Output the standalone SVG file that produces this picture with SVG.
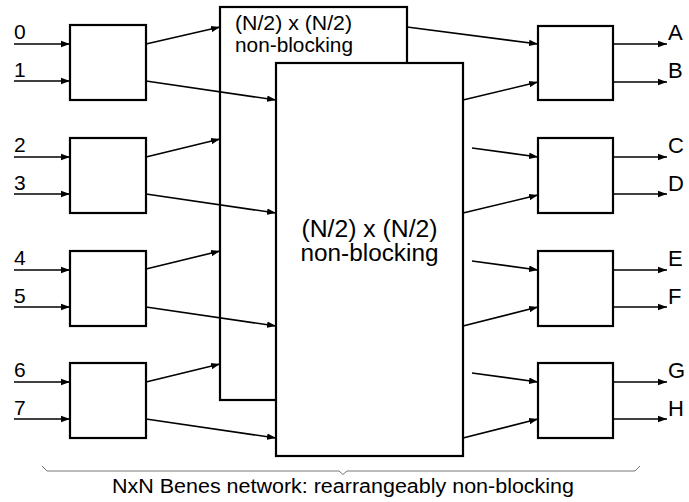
<svg xmlns="http://www.w3.org/2000/svg" width="689" height="502" viewBox="0 0 689 502">
<defs>
<marker id="ah" markerUnits="userSpaceOnUse" markerWidth="10" markerHeight="8" refX="9" refY="4" orient="auto">
<path d="M0,0.8 L9,4 L0,7.2 Z" fill="#000"/>
</marker>
<style>
.blk{fill:#fff;stroke:#000;stroke-width:2.2}
.c{fill:none;stroke:#000;stroke-width:1.6;marker-end:url(#ah)}
text{font-family:"Liberation Sans",Arial,sans-serif;fill:#000}
.d{font-size:21px}
.l{font-size:22px}
.m{font-size:21px}
.b{font-size:23px}
</style>
</defs>
<g id="sub-top">
<rect class="blk" x="220" y="7" width="187" height="393"/>
<text class="m" x="235" y="30" textLength="117" lengthAdjust="spacingAndGlyphs">(N/2) x (N/2)</text>
<text class="m" x="235" y="52" textLength="118" lengthAdjust="spacingAndGlyphs">non-blocking</text>
</g>
<g id="sub-bottom">
<rect class="blk" x="276" y="63" width="187" height="393"/>
<text class="b" x="369.5" y="237" text-anchor="middle" textLength="136" lengthAdjust="spacingAndGlyphs">(N/2) x (N/2)</text>
<text class="b" x="369.5" y="261" text-anchor="middle" textLength="138" lengthAdjust="spacingAndGlyphs">non-blocking</text>
</g>
<g id="in1"><rect class="blk" x="70" y="25" width="76" height="75"/><text class="d" x="14" y="39">0</text><text class="d" x="14" y="77">1</text></g>
<g id="in2"><rect class="blk" x="70" y="138" width="76" height="75"/><text class="d" x="14" y="152">2</text><text class="d" x="14" y="190">3</text></g>
<g id="in3"><rect class="blk" x="70" y="251" width="76" height="75"/><text class="d" x="14" y="265">4</text><text class="d" x="14" y="303">5</text></g>
<g id="in4"><rect class="blk" x="70" y="363" width="76" height="75"/><text class="d" x="14" y="377">6</text><text class="d" x="14" y="415">7</text></g>
<g id="out1"><rect class="blk" x="538" y="26" width="75" height="74"/><text class="l" x="668" y="40">A</text><text class="l" x="668" y="78">B</text></g>
<g id="out2"><rect class="blk" x="538" y="138" width="75" height="75"/><text class="l" x="668" y="153">C</text><text class="l" x="668" y="191">D</text></g>
<g id="out3"><rect class="blk" x="538" y="251" width="75" height="75"/><text class="l" x="668" y="266">E</text><text class="l" x="668" y="304">F</text></g>
<g id="out4"><rect class="blk" x="538" y="363" width="75" height="75"/><text class="l" x="668" y="378">G</text><text class="l" x="668" y="416">H</text></g>
<g id="connectors">
<line class="c" x1="14" y1="44" x2="70" y2="44"/>
<line class="c" x1="14" y1="81" x2="70" y2="81"/>
<line class="c" x1="14" y1="157" x2="70" y2="157"/>
<line class="c" x1="14" y1="194" x2="70" y2="194"/>
<line class="c" x1="14" y1="270" x2="70" y2="270"/>
<line class="c" x1="14" y1="307" x2="70" y2="307"/>
<line class="c" x1="14" y1="382" x2="70" y2="382"/>
<line class="c" x1="14" y1="419" x2="70" y2="419"/>
<line class="c" x1="146" y1="44" x2="220" y2="27"/>
<line class="c" x1="146" y1="81" x2="276" y2="100"/>
<line class="c" x1="146" y1="157" x2="220" y2="139"/>
<line class="c" x1="146" y1="194" x2="276" y2="213"/>
<line class="c" x1="146" y1="269" x2="220" y2="251"/>
<line class="c" x1="146" y1="307" x2="276" y2="326"/>
<line class="c" x1="146" y1="382" x2="220" y2="364"/>
<line class="c" x1="146" y1="419" x2="276" y2="438"/>
<line class="c" x1="407" y1="27" x2="538" y2="44"/>
<line class="c" x1="463" y1="100" x2="538" y2="82"/>
<line class="c" x1="472" y1="148" x2="538" y2="157"/>
<line class="c" x1="463" y1="213" x2="538" y2="195"/>
<line class="c" x1="472" y1="261" x2="538" y2="270"/>
<line class="c" x1="463" y1="326" x2="538" y2="307"/>
<line class="c" x1="472" y1="373" x2="538" y2="382"/>
<line class="c" x1="463" y1="438" x2="538" y2="419"/>
<line class="c" x1="613" y1="44" x2="667" y2="44"/>
<line class="c" x1="613" y1="82" x2="667" y2="82"/>
<line class="c" x1="613" y1="157" x2="667" y2="157"/>
<line class="c" x1="613" y1="194" x2="667" y2="194"/>
<line class="c" x1="613" y1="270" x2="667" y2="270"/>
<line class="c" x1="613" y1="307" x2="667" y2="307"/>
<line class="c" x1="613" y1="382" x2="667" y2="382"/>
<line class="c" x1="613" y1="419" x2="667" y2="419"/>
</g>
<g id="brace">
<path d="M42,466 L47,471 L339,471 L343,474.5 L347,471 L635,471 L640,466" fill="none" stroke="#777" stroke-width="1"/>
<text x="343" y="493" font-size="20" text-anchor="middle" textLength="462" lengthAdjust="spacingAndGlyphs">NxN Benes network: rearrangeably non-blocking</text>
</g>
</svg>
